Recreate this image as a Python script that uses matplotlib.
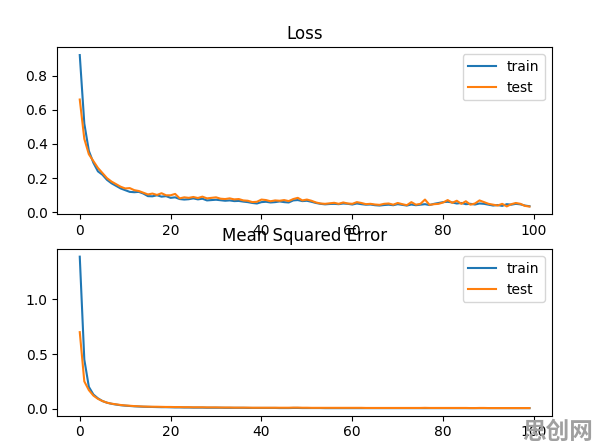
import matplotlib
matplotlib.use("Agg")
import matplotlib.pyplot as plt

# values (epochs 0..99)
epochs = list(range(100))

loss_train = [
    0.92, 0.52, 0.36, 0.29, 0.24, 0.22, 0.19, 0.17, 0.155, 0.14,
    0.13, 0.12, 0.118, 0.12, 0.11, 0.095, 0.094, 0.10, 0.092, 0.095,
    0.085, 0.088, 0.078, 0.075, 0.077, 0.082, 0.076, 0.080, 0.070, 0.072,
    0.074, 0.071, 0.068, 0.070, 0.066, 0.067, 0.063, 0.060, 0.055, 0.052,
    0.060, 0.062, 0.058, 0.060, 0.064, 0.060, 0.058, 0.070, 0.072, 0.066,
    0.068, 0.062, 0.055, 0.050, 0.047, 0.049, 0.050, 0.048, 0.052, 0.050,
    0.046, 0.052, 0.048, 0.045, 0.046, 0.042, 0.040, 0.043, 0.045, 0.042,
    0.048, 0.044, 0.040, 0.046, 0.042, 0.045, 0.048, 0.043, 0.050, 0.055,
    0.060, 0.062, 0.058, 0.052, 0.055, 0.048, 0.050, 0.046, 0.052, 0.050,
    0.045, 0.040, 0.043, 0.038, 0.048, 0.045, 0.050, 0.047, 0.040, 0.036,
]
loss_test = [
    0.66, 0.43, 0.34, 0.30, 0.26, 0.23, 0.20, 0.18, 0.165, 0.15,
    0.14, 0.142, 0.13, 0.125, 0.115, 0.105, 0.11, 0.102, 0.112, 0.10,
    0.10, 0.108, 0.082, 0.088, 0.085, 0.09, 0.084, 0.092, 0.082, 0.085,
    0.088, 0.08, 0.078, 0.082, 0.076, 0.078, 0.07, 0.068, 0.06, 0.062,
    0.075, 0.072, 0.065, 0.07, 0.068, 0.072, 0.066, 0.078, 0.085, 0.07,
    0.075, 0.068, 0.058, 0.052, 0.05, 0.053, 0.056, 0.05, 0.058, 0.052,
    0.05, 0.06, 0.055, 0.048, 0.05, 0.046, 0.044, 0.05, 0.052, 0.045,
    0.055, 0.048, 0.042, 0.06, 0.045, 0.05, 0.075, 0.044, 0.048, 0.05,
    0.058, 0.072, 0.056, 0.068, 0.05, 0.065, 0.045, 0.052, 0.07, 0.06,
    0.05, 0.045, 0.04, 0.05, 0.035, 0.048, 0.055, 0.05, 0.038, 0.034,
]
mse_train = [
    1.39, 0.45, 0.20, 0.13, 0.095, 0.07, 0.055, 0.045, 0.038, 0.032,
    0.028, 0.025, 0.022, 0.020, 0.018, 0.017, 0.016, 0.015, 0.014, 0.014,
    0.013, 0.012, 0.012, 0.011, 0.011, 0.010, 0.010, 0.010, 0.009, 0.009,
    0.009, 0.009, 0.008, 0.008, 0.008, 0.008, 0.008, 0.007, 0.007, 0.007,
    0.007, 0.007, 0.007, 0.007, 0.006, 0.006, 0.006, 0.007, 0.007, 0.006,
    0.006, 0.006, 0.006, 0.006, 0.005, 0.005, 0.005, 0.005, 0.005, 0.005,
    0.005, 0.005, 0.005, 0.005, 0.005, 0.005, 0.005, 0.005, 0.005, 0.005,
    0.005, 0.005, 0.005, 0.005, 0.005, 0.005, 0.005, 0.005, 0.005, 0.005,
    0.005, 0.005, 0.005, 0.005, 0.005, 0.005, 0.005, 0.005, 0.005, 0.005,
    0.005, 0.005, 0.005, 0.005, 0.005, 0.005, 0.005, 0.005, 0.005, 0.005,
]
mse_test = [
    0.70, 0.25, 0.17, 0.12, 0.09, 0.07, 0.055, 0.046, 0.040, 0.034,
    0.030, 0.027, 0.024, 0.022, 0.020, 0.019, 0.018, 0.018, 0.017, 0.016,
    0.016, 0.015, 0.015, 0.014, 0.014, 0.013, 0.013, 0.013, 0.012, 0.012,
    0.012, 0.011, 0.011, 0.011, 0.010, 0.010, 0.010, 0.010, 0.009, 0.009,
    0.009, 0.009, 0.009, 0.009, 0.009, 0.009, 0.009, 0.010, 0.010, 0.009,
    0.009, 0.008, 0.008, 0.008, 0.008, 0.008, 0.008, 0.008, 0.008, 0.008,
    0.008, 0.008, 0.008, 0.007, 0.007, 0.007, 0.007, 0.007, 0.007, 0.007,
    0.007, 0.007, 0.007, 0.007, 0.007, 0.007, 0.008, 0.007, 0.007, 0.007,
    0.007, 0.007, 0.007, 0.007, 0.007, 0.007, 0.006, 0.006, 0.007, 0.007,
    0.006, 0.006, 0.006, 0.006, 0.006, 0.006, 0.006, 0.006, 0.006, 0.006,
]

fig = plt.figure(figsize=(5.96, 4.48), dpi=100)

# top panel: loss
ax1 = fig.add_axes([0.0961, 0.522, 0.830, 0.372])
ax1.plot(epochs, loss_train, label="train")
ax1.plot(epochs, loss_test, label="test")
ax1.set_title("Loss")
ax1.legend(loc="upper right")

# bottom panel: mean squared error
ax2 = fig.add_axes([0.0961, 0.072, 0.830, 0.372])
ax2.plot(epochs, mse_train, label="train")
ax2.plot(epochs, mse_test, label="test")
ax2.set_title("Mean Squared Error")
ax2.legend(loc="upper right")

# watermark in the corner
fig.text(0.995, 0.008, "思创网", ha="right", va="bottom", fontsize=17,
         fontweight="bold", color="#a0a0a0",
         family=["Noto Sans CJK SC", "DejaVu Sans"])

plt.savefig("out.png", dpi=100)
